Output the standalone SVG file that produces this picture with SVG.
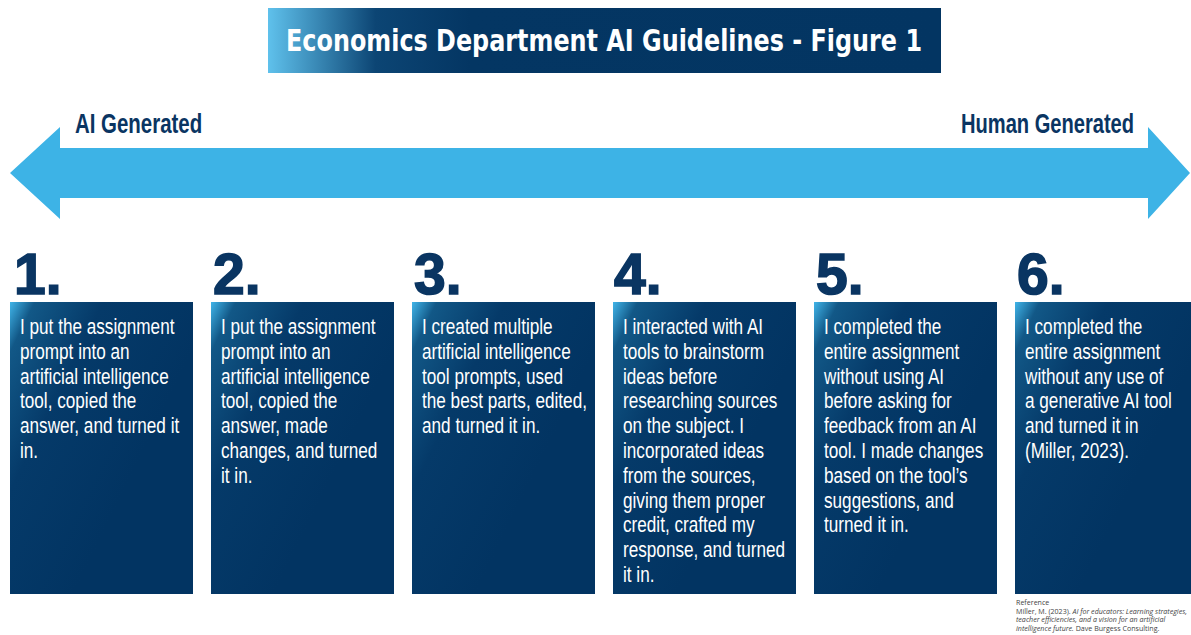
<svg xmlns="http://www.w3.org/2000/svg" width="1191" height="635" viewBox="0 0 1191 635">
<defs>
<linearGradient id="tg" x1="0" y1="0" x2="1" y2="0">
<stop offset="0" stop-color="#5fc1ec"/>
<stop offset="0.16" stop-color="#0c4574"/>
<stop offset="0.3" stop-color="#043663"/>
<stop offset="1" stop-color="#033562"/>
</linearGradient>
<linearGradient id="bg" x1="0" y1="0" x2="0.7" y2="0.55">
<stop offset="0" stop-color="#40b4e8"/>
<stop offset="0.12" stop-color="#125887"/>
<stop offset="0.45" stop-color="#053a69"/>
<stop offset="1" stop-color="#023462"/>
</linearGradient>
<style>
.box{fill:url(#bg)}
.num{font-family:"Liberation Sans",Arial,sans-serif;font-weight:bold;font-size:57px;fill:#0a3562;stroke:#0a3562;stroke-width:1.6}
.body{font-family:"Liberation Sans",Arial,sans-serif;font-size:22px;fill:#ffffff}
.lab{font-family:"Liberation Sans",Arial,sans-serif;font-weight:bold;font-size:28px;fill:#0a3562}
.ref{font-family:"Open Sans","Liberation Sans",sans-serif;font-size:7.1px;fill:#444444}
</style>
</defs>
<rect width="1191" height="635" fill="#ffffff"/>
<g id="title">
<rect x="268" y="8" width="673" height="65" fill="url(#tg)"/>
<text x="286" y="51" textLength="636" lengthAdjust="spacingAndGlyphs" font-family="'DejaVu Sans','Liberation Sans',sans-serif" font-weight="bold" font-size="30" fill="#ffffff">Economics Department AI Guidelines - Figure 1</text>
</g>
<g id="connectors">
<path d="M10,173 L60,127 L60,148 L1148,148 L1148,127 L1190,173 L1148,219 L1148,198 L60,198 L60,219 Z" fill="#3db3e6"/>
</g>
<g id="label-ai">
<text class="lab" transform="translate(75,133) scale(0.73,1)">AI Generated</text>
</g>
<g id="label-human">
<text class="lab" transform="translate(961,133) scale(0.718,1)">Human Generated</text>
</g>
<g id="node1">
<text class="num" x="14" y="294">1.</text>
<rect class="box" x="10" y="302" width="183" height="292"/>
<text class="body" transform="translate(20,334) scale(0.78,1)"><tspan x="0">I put the assignment</tspan><tspan x="0" dy="24.8">prompt into an</tspan><tspan x="0" dy="24.8">artificial intelligence</tspan><tspan x="0" dy="24.8">tool, copied the</tspan><tspan x="0" dy="24.8">answer, and turned it</tspan><tspan x="0" dy="24.8">in.</tspan></text>
</g>
<g id="node2">
<text class="num" x="213" y="294">2.</text>
<rect class="box" x="211" y="302" width="183" height="292"/>
<text class="body" transform="translate(221,334) scale(0.78,1)"><tspan x="0">I put the assignment</tspan><tspan x="0" dy="24.8">prompt into an</tspan><tspan x="0" dy="24.8">artificial intelligence</tspan><tspan x="0" dy="24.8">tool, copied the</tspan><tspan x="0" dy="24.8">answer, made</tspan><tspan x="0" dy="24.8">changes, and turned</tspan><tspan x="0" dy="24.8">it in.</tspan></text>
</g>
<g id="node3">
<text class="num" x="414" y="294">3.</text>
<rect class="box" x="412" y="302" width="183" height="292"/>
<text class="body" transform="translate(422,334) scale(0.78,1)"><tspan x="0">I created multiple</tspan><tspan x="0" dy="24.8">artificial intelligence</tspan><tspan x="0" dy="24.8">tool prompts, used</tspan><tspan x="0" dy="24.8">the best parts, edited,</tspan><tspan x="0" dy="24.8">and turned it in.</tspan></text>
</g>
<g id="node4">
<text class="num" x="614" y="294">4.</text>
<rect class="box" x="613" y="302" width="183" height="292"/>
<text class="body" transform="translate(623,334) scale(0.78,1)"><tspan x="0">I interacted with AI</tspan><tspan x="0" dy="24.8">tools to brainstorm</tspan><tspan x="0" dy="24.8">ideas before</tspan><tspan x="0" dy="24.8">researching sources</tspan><tspan x="0" dy="24.8">on the subject. I</tspan><tspan x="0" dy="24.8">incorporated ideas</tspan><tspan x="0" dy="24.8">from the sources,</tspan><tspan x="0" dy="24.8">giving them proper</tspan><tspan x="0" dy="24.8">credit, crafted my</tspan><tspan x="0" dy="24.8">response, and turned</tspan><tspan x="0" dy="24.8">it in.</tspan></text>
</g>
<g id="node5">
<text class="num" x="816" y="294">5.</text>
<rect class="box" x="814" y="302" width="183" height="292"/>
<text class="body" transform="translate(824,334) scale(0.78,1)"><tspan x="0">I completed the</tspan><tspan x="0" dy="24.8">entire assignment</tspan><tspan x="0" dy="24.8">without using AI</tspan><tspan x="0" dy="24.8">before asking for</tspan><tspan x="0" dy="24.8">feedback from an AI</tspan><tspan x="0" dy="24.8">tool. I made changes</tspan><tspan x="0" dy="24.8">based on the tool’s</tspan><tspan x="0" dy="24.8">suggestions, and</tspan><tspan x="0" dy="24.8">turned it in.</tspan></text>
</g>
<g id="node6">
<text class="num" x="1017" y="294">6.</text>
<rect class="box" x="1015" y="302" width="183" height="292"/>
<text class="body" transform="translate(1025,334) scale(0.78,1)"><tspan x="0">I completed the</tspan><tspan x="0" dy="24.8">entire assignment</tspan><tspan x="0" dy="24.8">without any use of</tspan><tspan x="0" dy="24.8">a generative AI tool</tspan><tspan x="0" dy="24.8">and turned it in</tspan><tspan x="0" dy="24.8">(Miller, 2023).</tspan></text>
</g>
<g id="reference">
<text class="ref" x="1016" y="605">Reference</text>
<text class="ref" x="1016" y="613.5">Miller, M. (2023). <tspan font-style="italic">AI for educators: Learning strategies,</tspan></text>
<text class="ref" x="1016" y="622" font-style="italic">teacher efficiencies, and a vision for an artificial</text>
<text class="ref" x="1016" y="630.5"><tspan font-style="italic">intelligence future.</tspan> Dave Burgess Consulting.</text>
</g>
</svg>
